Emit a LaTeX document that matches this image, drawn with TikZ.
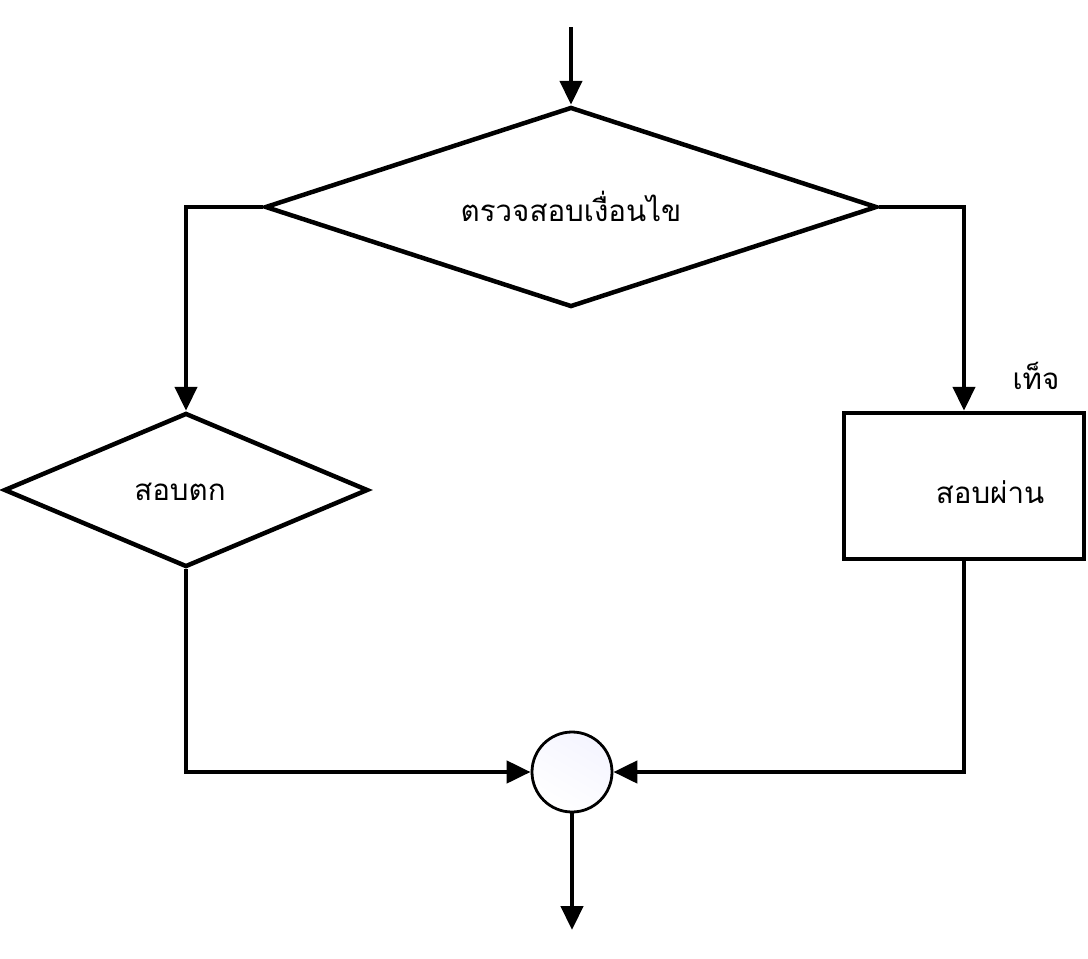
\documentclass[tikz,border=0pt]{standalone}
\usepackage{fontspec}
\newfontfamily\thaifont[Script=Thai]{Loma}
\usetikzlibrary{shapes.geometric,arrows.meta}
\begin{document}
\begin{tikzpicture}[x=1pt,y=-1pt,
  every node/.style={font=\thaifont\fontsize{29.5}{34}\selectfont},
  shp/.style={draw,line width=4.5pt,inner sep=0pt},
  dia/.style={shp,diamond},
  conn/.style={line width=4.5pt,-{Triangle[length=24pt,width=22pt]}},
  plain/.style={line width=4.5pt}]
\useasboundingbox (0,0) rectangle (1088,959);
\node[dia,minimum width=612pt,minimum height=200pt] (cond) at (571,207) {};
\node at (571,206) (condt) {ตรวจสอบเงื่อนไข};
\node[dia,minimum width=364pt,minimum height=154pt] (fail) at (186,490) {};
\node at (180,492) (failt) {สอบตก};
\node[shp,rectangle,minimum width=240pt,minimum height=146pt] (pass) at (964,486) {};
\node at (990,492) (passt) {สอบผ่าน};
\node at (1036,376) (false) {เท็จ};
\node[draw,line width=2.8pt,circle,minimum size=80pt,inner sep=0pt,
      top color=blue!4,bottom color=white,shading angle=-30] (join) at (572,772) {};
\coordinate (start) at (571,27);
\coordinate (end) at (572,930);
\draw[conn] (start) -- (cond.north);
\draw[conn] (cond.west) -| (fail.north);
\draw[conn] (cond.east) -| (pass.north);
\draw[conn] (fail.south) |- (join.west);
\draw[conn] (pass.south) |- (join.east);
\draw[conn] (join.south) -- (end);
\end{tikzpicture}
\end{document}
